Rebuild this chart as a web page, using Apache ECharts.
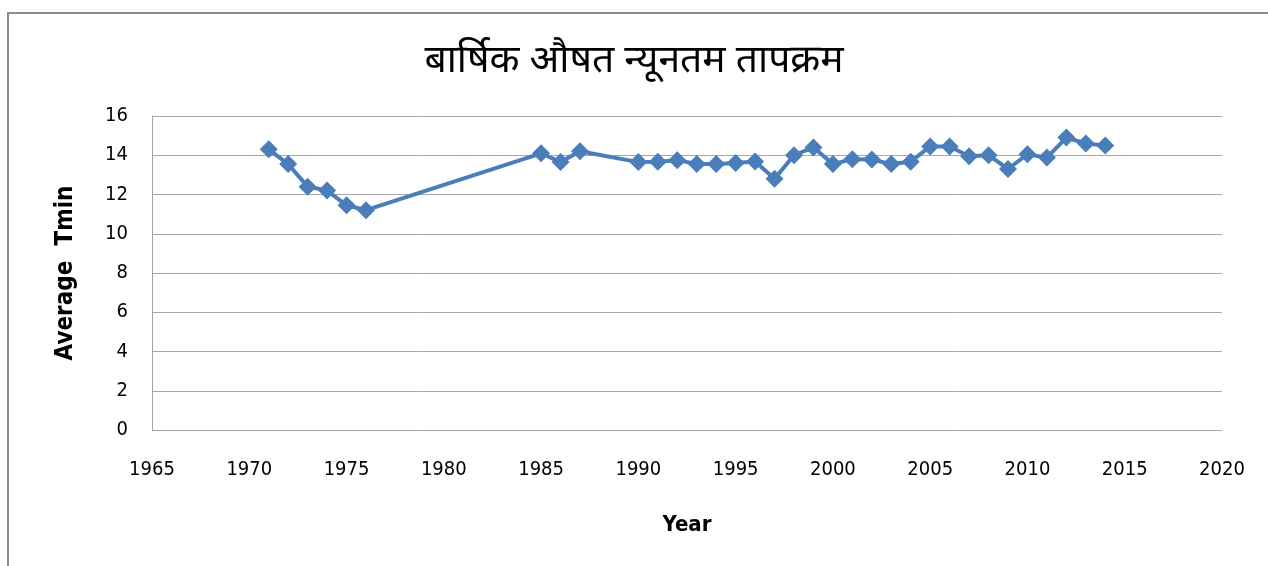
<!DOCTYPE html>
<html>
<head>
<meta charset="utf-8">
<script src="https://cdn.jsdelivr.net/npm/echarts@6/dist/echarts.min.js"></script>
<style>
  html, body { margin: 0; padding: 0; background: #fff; }
  #main { width: 1268px; height: 566px; }
</style>
</head>
<body>
<div id="main"></div>
<script>
// data
var years = [1971, 1972, 1973, 1974, 1975, 1976, 1985, 1986, 1987,
  1990, 1991, 1992, 1993, 1994, 1995, 1996, 1997, 1998, 1999,
  2000, 2001, 2002, 2003, 2004, 2005, 2006, 2007, 2008, 2009,
  2010, 2011, 2012, 2013, 2014];
var tmin = [14.3, 13.55, 12.4, 12.2, 11.45, 11.2, 14.1, 13.65, 14.2,
  13.65, 13.67, 13.75, 13.55, 13.55, 13.6, 13.68, 12.8, 14.0, 14.4,
  13.55, 13.8, 13.78, 13.55, 13.67, 14.45, 14.45, 13.95, 14.0, 13.3,
  14.05, 13.88, 14.9, 14.6, 14.5];

var titleText = 'बार्षिक औषत न्यूनतम तापक्रम';
var xName = 'Year';
var yName = 'Average  Tmin';

var points = years.map(function (y, i) { return [y, tmin[i]]; });

var chart = echarts.init(document.getElementById('main'));
var labelFont = '"DejaVu Sans Condensed", "Liberation Sans Narrow", sans-serif';

chart.setOption({
  animation: false,
  backgroundColor: '#fff',
  graphic: [{
    type: 'rect',
    shape: { x: 8, y: 13, width: 1300, height: 600 },
    style: { fill: 'none', stroke: '#8c8c8c', lineWidth: 2 },
    silent: true
  }],
  title: {
    text: titleText,
    left: 'center',
    top: 40,
    textStyle: {
      fontSize: 39,
      fontWeight: 'normal',
      color: '#000',
      fontFamily: '"Noto Sans Devanagari", "Noto Sans", sans-serif'
    }
  },
  grid: { left: 152, right: 46, top: 116, bottom: 136 },
  xAxis: {
    type: 'value',
    min: 1965,
    max: 2020,
    interval: 5,
    name: xName,
    nameLocation: 'middle',
    nameGap: 84,
    nameTextStyle: { fontSize: 22, fontWeight: 'bold', color: '#000', fontFamily: labelFont },
    axisLine: { show: false },
    axisTick: { show: false },
    splitLine: { show: false },
    axisLabel: {
      margin: 30, fontSize: 20, color: '#000', fontFamily: labelFont,
      formatter: function (v) { return String(v); }
    }
  },
  yAxis: {
    type: 'value',
    min: 0,
    max: 16,
    interval: 2,
    name: yName,
    nameLocation: 'middle',
    nameGap: 74,
    nameTextStyle: { fontSize: 24, fontWeight: 'bold', color: '#000', fontFamily: labelFont },
    axisLine: { show: true, lineStyle: { color: '#a6a6a6', width: 1 } },
    axisTick: { show: false },
    splitLine: { lineStyle: { color: '#a6a6a6', width: 1 } },
    axisLabel: { margin: 24, fontSize: 20, color: '#000', fontFamily: labelFont }
  },
  series: [{
    type: 'line',
    data: points,
    symbol: 'diamond',
    symbolSize: 18,
    lineStyle: { color: '#4a7ebb', width: 4 },
    itemStyle: { color: '#4a7ebb' }
  }]
});
</script>
</body>
</html>
